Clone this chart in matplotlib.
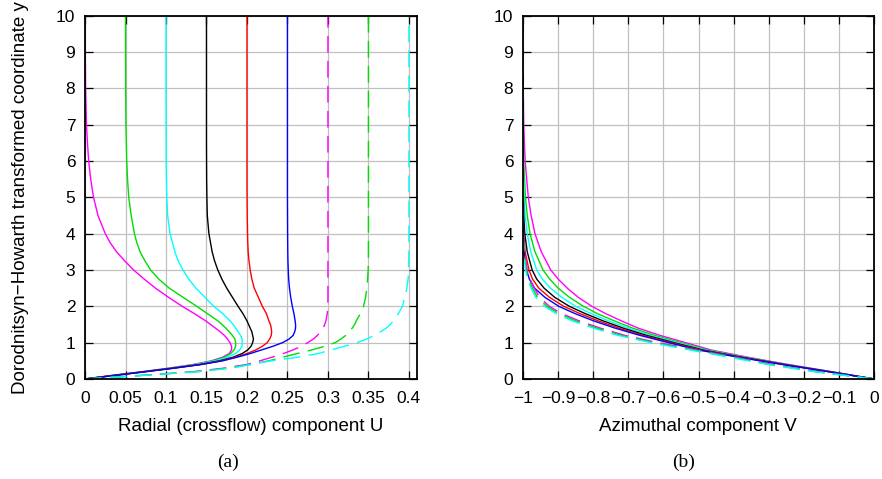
import numpy as np
import matplotlib
matplotlib.use("Agg")
import matplotlib.pyplot as plt

plt.rcParams['font.family'] = ['Liberation Sans', 'DejaVu Sans']

# ---- panel (a): radial component U vs y ----
y_a = [0, 0.1, 0.2, 0.3, 0.4, 0.5, 0.6, 0.7, 0.8, 0.9, 1.0, 1.1, 1.2, 1.3, 1.4, 1.5,
       1.6, 1.8, 2.0, 2.25, 2.5, 2.75, 3.0, 3.25, 3.5, 3.75, 4.0, 4.5, 5.0, 5.5, 6.0, 6.5,
       7.0, 8.0, 10.0]

U_000 = [0, .034, .070, .104, .134, .156, .170, .178, .181, .181, .179, .176, .172, .167, .161, .155,
         .149, .135, .120, .103, .087, .073, .060, .049, .039, .031, .025, .016, .0105, .007, .0045, .003,
         .0018, .0007, 0]
U_005 = [0, .034, .071, .105, .136, .158, .172, .180, .184, .186, .186, .185, .182, .178, .174, .169,
         .164, .151, .138, .121, .104, .091, .081, .074, .068, .064, .061, .057, .054, .0525, .0515, .051,
         .0505, .0502, .05]
U_010 = [0, .035, .072, .107, .138, .161, .176, .186, .191, .194, .194, .194, .192, .189, .186, .183,
         .179, .170, .159, .148, .137, .128, .121, .115, .111, .108, .105, .102, .101, .1005, .1003, .1002,
         .1001, .1, .1]
U_015 = [0, .036, .073, .109, .142, .166, .183, .194, .201, .205, .207, .208, .207, .206, .204, .202,
         .200, .195, .189, .182, .175, .169, .164, .160, .157, .155, .153, .151, .1505, .1502, .1501, .15,
         .15, .15, .15]
U_020 = [0, .037, .074, .110, .143, .168, .186, .200, .211, .219, .225, .228, .230, .2305, .230, .229,
         .227, .224, .219, .214, .209, .206, .204, .2025, .2015, .201, .2007, .2003, .2001, .2, .2, .2,
         .2, .2, .2]
U_025 = [0, .038, .075, .111, .144, .170, .188, .204, .218, .232, .244, .252, .257, .259, .260, .260,
         .2595, .258, .256, .254, .2525, .2515, .251, .2506, .2504, .2503, .2502, .2501, .25, .25, .25, .25,
         .25, .25, .25]
U_030 = [0, .070, .133, .172, .200, .216, .231, .245, .257, .267, .275, .282, .287, .291, .294, .296,
         .2975, .2992, .2998, .3, .3, .3, .3, .3, .3, .3, .3, .3, .3, .3, .3, .3,
         .3, .3, .3]
U_035 = [0, .072, .137, .177, .204, .227, .244, .262, .280, .296, .309, .316, .322, .326, .330, .333,
         .335, .340, .344, .3465, .348, .349, .3497, .3499, .35, .35, .35, .35, .35, .35, .35, .35,
         .35, .35, .35]
U_040 = [0, .073, .140, .181, .205, .230, .263, .288, .304, .320, .336, .348, .357, .365, .372, .377,
         .381, .387, .392, .395, .3975, .399, .3995, .3998, .4, .4, .4, .4, .4, .4, .4, .4,
         .4, .4, .4]

# ---- panel (b): azimuthal component V vs y ----
y_b = [0, 0.2, 0.4, 0.6, 0.8, 1.0, 1.2, 1.4, 1.6, 1.8, 2.0, 2.25, 2.5, 2.75, 3.0,
       3.5, 4.0, 4.5, 5.0, 6.0, 7.0, 8.0, 10.0]

V_000 = [0, -.120, -.245, -.360, -.465, -.537, -.610, -.672, -.720, -.765, -.804, -.843, -.874, -.900, -.921,
         -.948, -.966, -.977, -.985, -.994, -.998, -.9995, -1]
V_005 = [0, -.122, -.250, -.367, -.474, -.550, -.625, -.688, -.740, -.788, -.828, -.868, -.900, -.924, -.943,
         -.966, -.980, -.988, -.993, -.998, -.9995, -1, -1]
V_010 = [0, -.124, -.253, -.372, -.481, -.560, -.637, -.702, -.757, -.806, -.850, -.890, -.922, -.945, -.961,
         -.978, -.988, -.994, -.997, -.9995, -1, -1, -1]
V_015 = [0, -.126, -.256, -.377, -.488, -.570, -.648, -.715, -.772, -.823, -.868, -.910, -.940, -.961, -.974,
         -.988, -.995, -.998, -.999, -1, -1, -1, -1]
V_020 = [0, -.128, -.259, -.382, -.495, -.578, -.658, -.727, -.786, -.838, -.884, -.925, -.955, -.973, -.983,
         -.994, -.998, -.9995, -1, -1, -1, -1, -1]
V_025 = [0, -.130, -.262, -.387, -.502, -.586, -.667, -.738, -.799, -.852, -.898, -.938, -.967, -.982, -.990,
         -.997, -.999, -1, -1, -1, -1, -1, -1]
V_030 = [0, -.160, -.290, -.395, -.505, -.615, -.710, -.780, -.840, -.890, -.925, -.953, -.968, -.980, -.988,
         -.996, -.999, -1, -1, -1, -1, -1, -1]
V_035 = [0, -.165, -.297, -.404, -.515, -.626, -.720, -.790, -.850, -.898, -.932, -.959, -.973, -.984, -.991,
         -.997, -.9995, -1, -1, -1, -1, -1, -1]
V_040 = [0, -.170, -.303, -.413, -.525, -.636, -.730, -.800, -.860, -.906, -.939, -.964, -.977, -.987, -.993,
         -.998, -1, -1, -1, -1, -1, -1, -1]

U_series = [U_000, U_005, U_010, U_015, U_020, U_025, U_030, U_035, U_040]
V_series = [V_000, V_005, V_010, V_015, V_020, V_025, V_030, V_035, V_040]
colors = ['#ff00ff', '#00dd00', '#00ffff', 'black', '#ff0000', '#0000ff', '#ff00ff', '#00dd00', '#00ffff']
dashed = [False] * 6 + [True] * 3

fig = plt.figure(figsize=(8.82, 4.79), dpi=100)
ax1 = fig.add_axes([0.0964, 0.2088, 0.3764, 0.7585])
ax2 = fig.add_axes([0.593, 0.2088, 0.398, 0.7585])


def style(ax):
    ax.grid(True, color='#c0c0c0', lw=0.9)
    ax.set_axisbelow(True)
    ax.tick_params(direction='in', length=6, width=0.9, top=True, right=True,
                   labelsize=12.5, colors='black')
    ax.tick_params(axis='x', pad=9)
    ax.tick_params(axis='y', pad=7)
    for s in ax.spines.values():
        s.set_linewidth(1.3)
    ax.set_ylim(0, 10)
    ax.set_yticks(range(0, 11))


for U, c, d in zip(U_series, colors, dashed):
    if d:
        ax1.plot(U, y_a, color=c, lw=1.0, dashes=(12, 6))
    else:
        ax1.plot(U, y_a, color=c, lw=1.0)
style(ax1)
ax1.set_xlim(0, 0.41)
xt = [0, 0.05, 0.1, 0.15, 0.2, 0.25, 0.3, 0.35, 0.4]
ax1.set_xticks(xt)
ax1.set_xticklabels(['0', '0.05', '0.1', '0.15', '0.2', '0.25', '0.3', '0.35', '0.4'])

for V, c, d in zip(V_series, colors, dashed):
    if d:
        ax2.plot(V, y_b, color=c, lw=1.0, dashes=(12, 6))
    else:
        ax2.plot(V, y_b, color=c, lw=1.0)
style(ax2)
ax2.set_xlim(-1, 0)
vt = [-1, -0.9, -0.8, -0.7, -0.6, -0.5, -0.4, -0.3, -0.2, -0.1, 0]
ax2.set_xticks(vt)
ax2.set_xticklabels(['\u22121', '\u22120.9', '\u22120.8', '\u22120.7', '\u22120.6', '\u22120.5',
                     '\u22120.4', '\u22120.3', '\u22120.2', '\u22120.1', '0'])

fig.text(0.2846, 0.1086, 'Radial (crossflow) component U', ha='center', va='center', fontsize=13.5)
fig.text(0.7914, 0.1086, 'Azimuthal component V', ha='center', va='center', fontsize=13.5)
fig.text(0.0227, 0.587, 'Dorodnitsyn\u2212Howarth transformed coordinate y', rotation=90,
         ha='center', va='center', fontsize=13.5)
fig.text(0.2585, 0.0355, '(a)', ha='center', va='center', fontsize=14, family='Liberation Serif')
fig.text(0.7755, 0.0355, '(b)', ha='center', va='center', fontsize=14, family='Liberation Serif')

fig.savefig('out.png', dpi=100)
